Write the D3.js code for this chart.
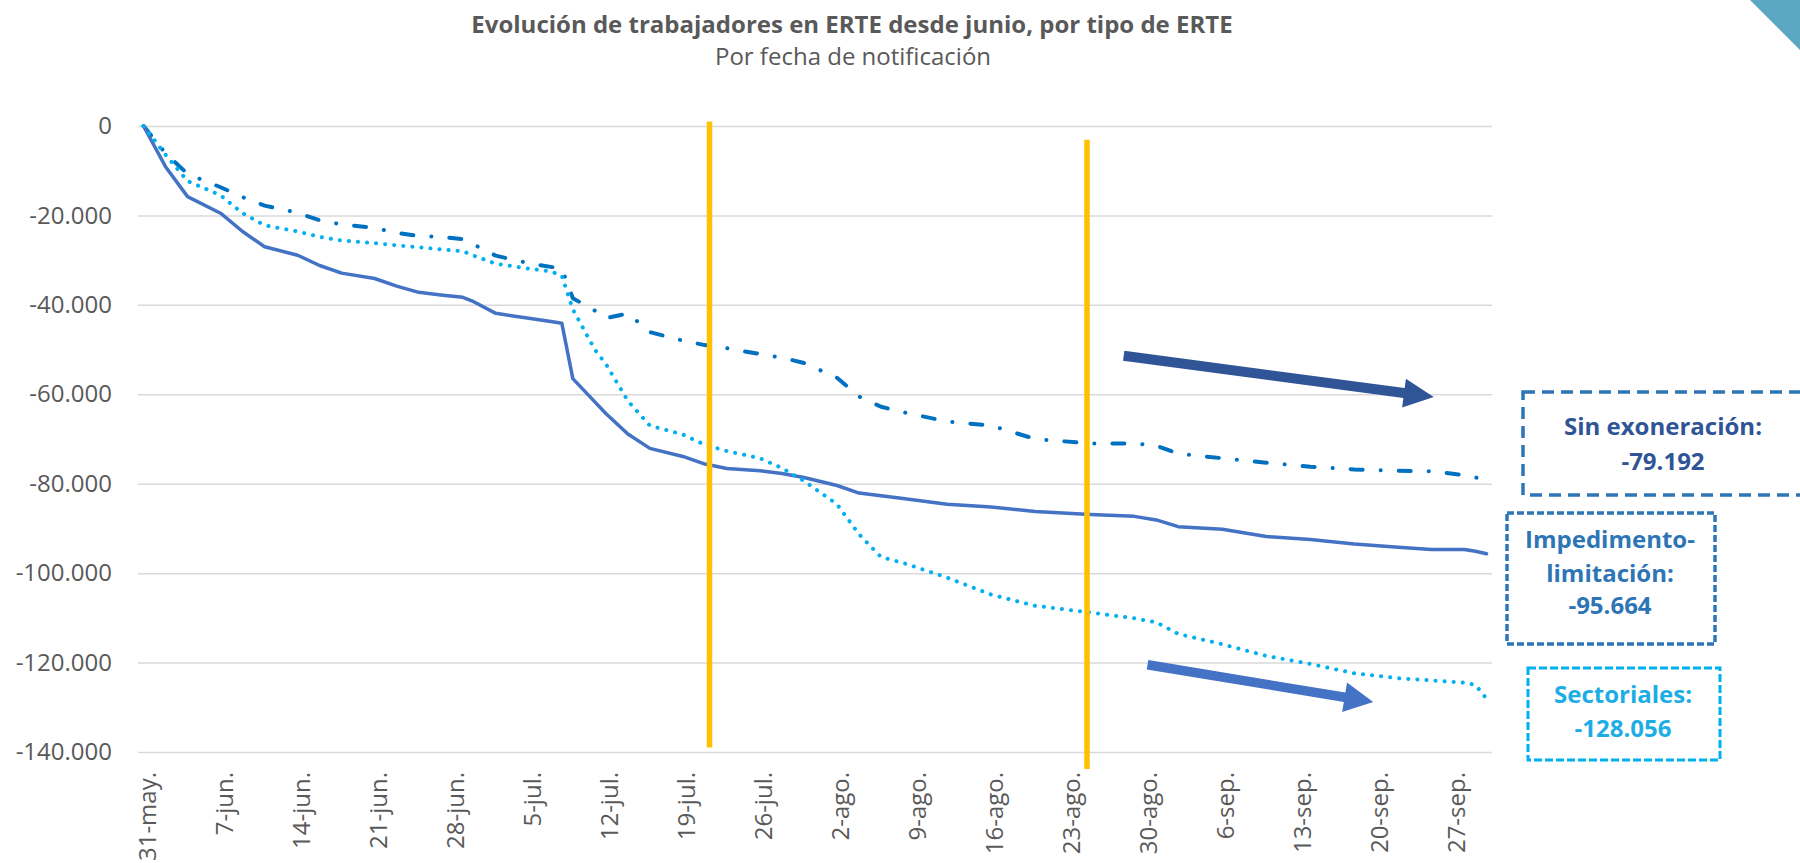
<!DOCTYPE html>
<html>
<head>
<meta charset="utf-8">
<script src="https://cdn.jsdelivr.net/npm/d3@7"></script>
<style>
body { margin: 0; background: #fff; }
svg { display: block; font-family: "Open Sans", sans-serif; }
</style>
</head>
<body>
<script>
// days (2020)
var dates = ["2020-05-31","2020-06-02","2020-06-04","2020-06-07","2020-06-09","2020-06-11","2020-06-14","2020-06-16","2020-06-18","2020-06-21",
	"2020-06-23","2020-06-25","2020-06-27","2020-06-29","2020-06-30","2020-07-02","2020-07-05","2020-07-07","2020-07-08","2020-07-09",
	"2020-07-11","2020-07-12","2020-07-14","2020-07-16","2020-07-19","2020-07-21","2020-07-23","2020-07-26","2020-07-28","2020-07-30",
	"2020-08-02","2020-08-04","2020-08-06","2020-08-08","2020-08-12","2020-08-16","2020-08-20","2020-08-25","2020-08-29","2020-08-31",
	"2020-09-02","2020-09-06","2020-09-10","2020-09-14","2020-09-18","2020-09-22","2020-09-25","2020-09-28","2020-09-29","2020-09-30"];

var impedimento = [0, -9100, -15800, -19500, -23600, -27000, -28900, -31200, -32900, -34100,
	-35800, -37200, -37800, -38300, -39300, -41900, -43000, -43700, -44100, -56500,
	-61700, -64300, -68900, -72100, -73900, -75600, -76600, -77100, -77700, -78600,
	-80400, -82100, -82700, -83300, -84600, -85200, -86200, -86900, -87300, -88100,
	-89600, -90200, -91800, -92500, -93500, -94200, -94700, -94700, -95100, -95664];

var sinExoneracion = [0, -6100, -10700, -13700, -15900, -17800, -19400, -21100, -22000, -22800,
	-23900, -24600, -24800, -25300, -26500, -29000, -30700, -31500, -31900, -38500,
	-41300, -43000, -41900, -46100, -48000, -49000, -49700, -51000, -51800, -53000,
	-56300, -60500, -62800, -64000, -66100, -67000, -70000, -71000, -71000, -71500,
	-73300, -74300, -75300, -76200, -76800, -77100, -77200, -78100, -78600, -79192];

var sectoriales = [0, -6400, -12300, -15500, -19500, -22200, -23600, -24800, -25600, -26200,
	-26700, -27100, -27600, -28000, -29000, -30800, -31900, -32500, -33500, -41000,
	-50000, -53200, -61500, -67000, -69000, -71300, -72700, -74300, -76500, -79400,
	-84600, -91300, -96400, -97700, -101000, -104800, -107300, -108800, -110100, -111000,
	-113600, -115900, -118500, -120300, -122400, -123500, -124000, -124500, -125000, -128056];

var tickDates = ["2020-05-31","2020-06-07","2020-06-14","2020-06-21","2020-06-28","2020-07-05","2020-07-12","2020-07-19","2020-07-26",
	"2020-08-02","2020-08-09","2020-08-16","2020-08-23","2020-08-30","2020-09-06","2020-09-13","2020-09-20","2020-09-27"];
var tickLabels = ["31-may.","7-jun.","14-jun.","21-jun.","28-jun.","5-jul.","12-jul.","19-jul.","26-jul.",
	"2-ago.","9-ago.","16-ago.","23-ago.","30-ago.","6-sep.","13-sep.","20-sep.","27-sep."];
var yTicks = [0, -20000, -40000, -60000, -80000, -100000, -120000, -140000];

var w = 1800,
		h = 863;

var svg = d3.select('body').append('svg').attr("width", w).attr("height", h);
svg.append('rect').attr("width", w).attr("height", h).attr("fill", "#fff");

var parse = function(s) { return new Date(s.length > 10 ? s : s + "T00:00:00Z"); };
var halfDay = 12 * 3600 * 1000;

var x = d3.scaleUtc()
	.domain([new Date(+parse(dates[0]) - halfDay), new Date(+parse(dates[dates.length - 1]) + halfDay)])
	.range([138, 1492]);
var y = d3.scaleLinear().domain([-140000, 0]).range([752, 126]);

var es = d3.formatLocale({decimal: ",", thousands: ".", grouping: [3], currency: ["", "€"], minus: "-"});
var fmt = es.format(",");

// gridlines + y labels
var yAxis = svg.append('g').attr("transform", "translate(138,0)")
	.call(d3.axisLeft(y).tickValues(yTicks).tickFormat(fmt).tickSize(-1354).tickPadding(26));
yAxis.select('.domain').remove();
yAxis.selectAll('line').attr("stroke", "#d9d9d9").attr("stroke-width", 1.5);
yAxis.selectAll('text').attr("fill", "#595959").style("font-size", "24px").style("font-family", "Open Sans");

// x labels, rotated
var xLab = svg.append('g');
tickDates.forEach(function(d, i) {
	xLab.append('text')
		.attr("transform", "translate(" + x(parse(d)) + ",772) rotate(-90)")
		.attr("text-anchor", "end")
		.attr("dy", "0.5em")
		.attr("fill", "#595959")
		.style("font-size", "24px")
		.text(tickLabels[i]);
});

// series
var series = [
	{values: sinExoneracion, color: "#0070C0", width: 4, dash: "12,18,0.1,18", cap: "round"},
	{values: impedimento, color: "#4472C4", width: 3.5, dash: null, cap: "round"},
	{values: sectoriales, color: "#00B0F0", width: 4, dash: "0.1,9", cap: "round"}
];

var line = d3.line()
	.x(function(d) { return x(d.date); })
	.y(function(d) { return y(d.v); });

series.forEach(function(s) {
	var pts = dates.map(function(d, i) { return {date: parse(d), v: s.values[i]}; });
	svg.append('path')
		.datum(pts)
		.attr("d", line)
		.attr("fill", "none")
		.attr("stroke", s.color)
		.attr("stroke-width", s.width)
		.attr("stroke-linecap", s.cap)
		.attr("stroke-linejoin", "round")
		.attr("stroke-dasharray", s.dash);
});

// yellow marker lines
var markers = [
	{date: "2020-07-21T10:00:00Z", top: 1000, bottom: -139000},
	{date: "2020-08-24T17:00:00Z", top: -3100, bottom: -143800}
];
markers.forEach(function(m) {
	svg.append('line')
		.attr("x1", x(parse(m.date))).attr("x2", x(parse(m.date)))
		.attr("y1", y(m.top)).attr("y2", y(m.bottom))
		.attr("stroke", "#FFC000").attr("stroke-width", 5.5);
});

// arrows
function arrowPoints(x1, y1, x2, y2, sw, hl, hw) {
	var dx = x2 - x1, dy = y2 - y1, len = Math.sqrt(dx * dx + dy * dy);
	var ux = dx / len, uy = dy / len, px = -uy, py = ux;
	var bx = x2 - ux * hl, by = y2 - uy * hl;
	return [[x1 + px * sw / 2, y1 + py * sw / 2], [bx + px * sw / 2, by + py * sw / 2], [bx + px * hw / 2, by + py * hw / 2],
		[x2, y2], [bx - px * hw / 2, by - py * hw / 2], [bx - px * sw / 2, by - py * sw / 2], [x1 - px * sw / 2, y1 - py * sw / 2]];
}
var arrows = [
	{from: ["2020-08-28T01:00:00Z", -51400], to: ["2020-09-25T05:00:00Z", -60600], color: "#2F5597", sw: 10, hl: 30, hw: 29},
	{from: ["2020-08-30T05:00:00Z", -120500], to: ["2020-09-19T17:00:00Z", -128800], color: "#4472C4", sw: 9.5, hl: 29, hw: 30}
];
arrows.forEach(function(a) {
	var p = arrowPoints(x(parse(a.from[0])), y(a.from[1]), x(parse(a.to[0])), y(a.to[1]), a.sw, a.hl, a.hw);
	svg.append('polygon').attr("points", p.join(" ")).attr("fill", a.color);
});

// title
svg.append('text').attr("x", 852).attr("y", 33).attr("text-anchor", "middle")
	.attr("fill", "#595959").style("font-size", "24px").style("font-weight", "bold")
	.text("Evolución de trabajadores en ERTE desde junio, por tipo de ERTE");
svg.append('text').attr("x", 853).attr("y", 65).attr("text-anchor", "middle")
	.attr("fill", "#595959").style("font-size", "24px")
	.text("Por fecha de notificación");

// boxes with final values
var boxes = [
	{x: 1523, y: 392, w: 300, h: 103, stroke: "#2E75B6", dash: "12,7", sw: 3.5, color: "#2F5597", cx: 1663,
		lines: ["Sin exoneración:", fmt(sinExoneracion[sinExoneracion.length - 1])], base: [435, 470]},
	{x: 1507, y: 513, w: 208, h: 131, stroke: "#2E75B6", dash: "7,3", sw: 3.5, color: "#2E75B6", cx: 1610,
		lines: ["Impedimento-", "limitación:", fmt(impedimento[impedimento.length - 1])], base: [548, 582, 614]},
	{x: 1528, y: 668, w: 192, h: 92, stroke: "#00B0F0", dash: "8,3", sw: 3, color: "#1CADE4", cx: 1623,
		lines: ["Sectoriales:", fmt(sectoriales[sectoriales.length - 1])], base: [703, 737]}
];
boxes.forEach(function(b) {
	svg.append('rect').attr("x", b.x).attr("y", b.y).attr("width", b.w).attr("height", b.h)
		.attr("fill", "none").attr("stroke", b.stroke).attr("stroke-width", b.sw).attr("stroke-dasharray", b.dash);
	b.lines.forEach(function(t, i) {
		svg.append('text').attr("x", b.cx).attr("y", b.base[i]).attr("text-anchor", "middle")
			.attr("fill", b.color).style("font-size", "24px").style("font-weight", "bold").text(t);
	});
});

// corner decoration
svg.append('polygon').attr("points", [[1750, 0], [1800, 0], [1800, 50]].join(" ")).attr("fill", "#5BA6C1");
</script>
</body>
</html>
